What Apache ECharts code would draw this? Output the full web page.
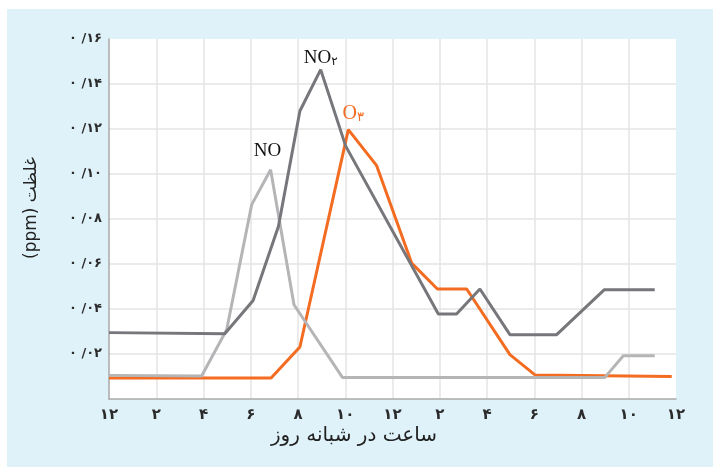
<!DOCTYPE html>
<html>
<head>
<meta charset="utf-8">
<script src="https://cdn.jsdelivr.net/npm/echarts@6/dist/echarts.min.js"></script>
<style>
  html, body { margin: 0; padding: 0; background: #ffffff; }
  #bg { position: absolute; left: 7px; top: 9px; width: 706px; height: 458px; background: #dff1f9; }
  #chart { position: absolute; left: 0; top: 0; width: 713px; height: 470px; }
</style>
</head>
<body>
<div id="bg"></div>
<div id="chart"></div>
<script>
// ---- data (hours since midnight, concentration ppm) ----
const no2Hours = [0, 4.9, 6.1, 7.17, 8.08, 8.96, 10.02, 13.94, 14.71, 15.7, 16.97, 18.95, 20.97, 23.1];
const no2Values = [0.0295, 0.029, 0.0438, 0.0767, 0.128, 0.1464, 0.1124, 0.0378, 0.0378, 0.0489, 0.0286, 0.0286, 0.0486, 0.0486];

const o3Hours = [0, 6.86, 8.08, 10.13, 11.33, 12.81, 13.9, 15.14, 16.97, 18.03, 23.82];
const o3Values = [0.0093, 0.0093, 0.0231, 0.1197, 0.1037, 0.0604, 0.0489, 0.0489, 0.0197, 0.0107, 0.0100];

const noHours = [0, 3.92, 4.98, 6.04, 6.84, 7.83, 9.88, 20.99, 21.77, 23.1];
const noValues = [0.0105, 0.0102, 0.0308, 0.0864, 0.1019, 0.0419, 0.0096, 0.0096, 0.0192, 0.0192];

const xTickLabels = ['۱۲', '۲', '۴', '۶', '۸', '۱۰', '۱۲', '۲', '۴', '۶', '۸', '۱۰', '۱۲'];
const yTickLabels = ['', '۰ /۰۲', '۰ /۰۴', '۰ /۰۶', '۰ /۰۸', '۰ /۱۰', '۰ /۱۲', '۰ /۱۴', '۰ /۱۶'];

const xAxisTitle = 'ساعت در شبانه روز';
const yAxisTitle = '(ppm) غلظت';

// ---- build ----
function peakIndex(vals) {
  let k = 0;
  vals.forEach((v, i) => { if (v > vals[k]) k = i; });
  return k;
}
function buildData(hs, vs, labelOpt) {
  const k = peakIndex(vs);
  return hs.map((h, i) => i === k ? { value: [h, vs[i]], label: labelOpt } : [h, vs[i]]);
}

const serifFont = 'Liberation Serif';
const persianFont = 'DejaVu Sans';

const lineBase = { type: 'line', symbol: 'circle', symbolSize: 0, showSymbol: true, showAllSymbol: true, label: { show: false } };

const chart = echarts.init(document.getElementById('chart'), null, { renderer: 'canvas' });
chart.setOption({
  backgroundColor: 'transparent',
  animation: false,
  grid: {
    left: 109, right: 37, top: 39, bottom: 71,
    show: true, backgroundColor: '#ffffff', borderWidth: 0
  },
  xAxis: {
    type: 'value', min: 0, max: 24, interval: 2,
    axisLine: { show: true, onZero: false, lineStyle: { color: '#a9a9a9', width: 1.5 } },
    axisTick: { show: false },
    axisLabel: {
      margin: 9,
      color: '#2b2b2b', fontFamily: persianFont, fontSize: 15, fontWeight: 'bold',
      formatter: v => xTickLabels[Math.round(v / 2)]
    },
    splitLine: { show: true, showMinLine: false, showMaxLine: false, lineStyle: { color: '#e4e4e4', width: 1.5 } }
  },
  yAxis: {
    type: 'value', min: 0, max: 0.16, interval: 0.02,
    axisLine: { show: true, onZero: false, lineStyle: { color: '#a9a9a9', width: 1.5 } },
    axisTick: { show: false },
    axisLabel: {
      margin: 7,
      color: '#2b2b2b', fontFamily: persianFont, fontSize: 13, fontWeight: 'bold',
      formatter: v => yTickLabels[Math.round(v / 0.02)]
    },
    splitLine: { show: true, showMinLine: false, showMaxLine: false, lineStyle: { color: '#e4e4e4', width: 1.5 } }
  },
  graphic: [
    {
      type: 'text', x: 354, y: 436,
      style: { text: xAxisTitle, font: '20px "DejaVu Sans"', fill: '#222', align: 'center', verticalAlign: 'middle' }
    },
    {
      type: 'text', x: 32, y: 208, rotation: Math.PI / 2,
      style: { text: yAxisTitle, font: '17px "DejaVu Sans"', fill: '#222', align: 'center', verticalAlign: 'middle' }
    }
  ],
  series: [
    Object.assign({}, lineBase, {
      name: 'O3', z: 2,
      lineStyle: { color: '#f36c21', width: 3 },
      itemStyle: { color: '#f36c21' },
      data: buildData(o3Hours, o3Values, {
        show: true, position: 'top', distance: 6, offset: [5, 0],
        formatter: '{a|O}{b|۳}',
        rich: {
          a: { fontFamily: serifFont, fontSize: 20, color: '#f36c21' },
          b: { fontFamily: persianFont, fontSize: 13, color: '#f36c21', padding: [7, 0, 0, 0] }
        }
      })
    }),
    Object.assign({}, lineBase, {
      name: 'NO', z: 3,
      lineStyle: { color: '#b5b5b8', width: 3 },
      itemStyle: { color: '#b5b5b8' },
      data: buildData(noHours, noValues, {
        show: true, position: 'top', distance: 9, offset: [-3, 0],
        formatter: '{a|NO}',
        rich: { a: { fontFamily: serifFont, fontSize: 19, color: '#111111' } }
      })
    }),
    Object.assign({}, lineBase, {
      name: 'NO2', z: 4,
      lineStyle: { color: '#77777b', width: 3 },
      itemStyle: { color: '#77777b' },
      data: buildData(no2Hours, no2Values, {
        show: true, position: 'top', distance: 2, offset: [0, 0],
        formatter: '{a|NO}{b|۲}',
        rich: {
          a: { fontFamily: serifFont, fontSize: 19, color: '#111111' },
          b: { fontFamily: persianFont, fontSize: 12, color: '#111111', padding: [7, 0, 0, 0] }
        }
      })
    })
  ]
});
</script>
</body>
</html>
